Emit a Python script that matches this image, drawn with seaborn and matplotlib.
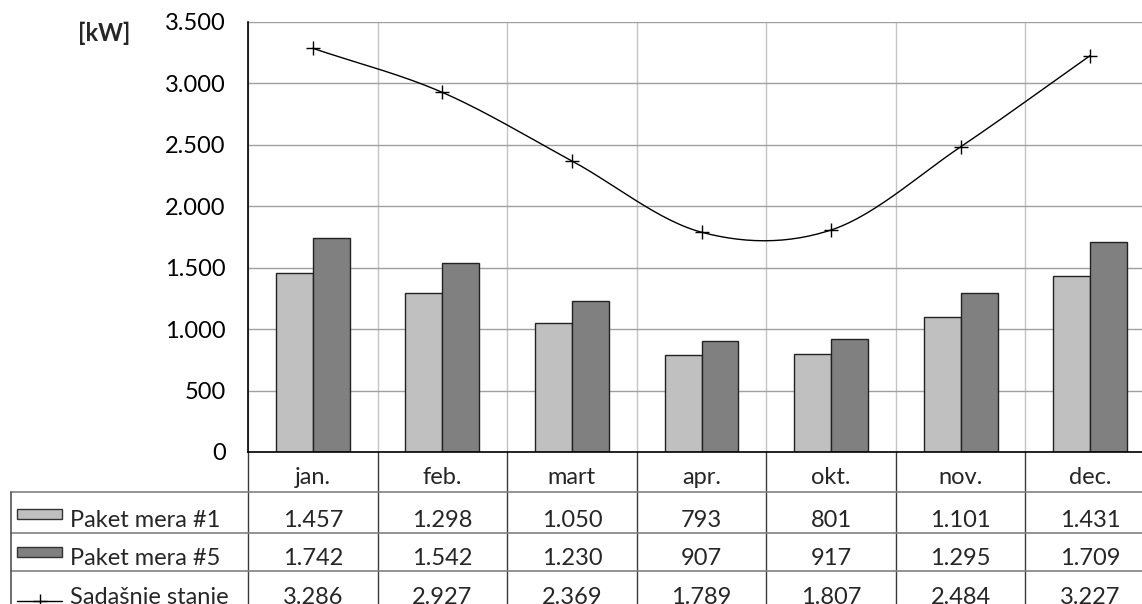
import numpy as np
import pandas as pd
import seaborn as sns
import matplotlib
matplotlib.use("Agg")
import matplotlib.pyplot as plt
from matplotlib.transforms import blended_transform_factory
from matplotlib.lines import Line2D
from matplotlib.patches import Rectangle

# ---- data ----
months = ["jan.", "feb.", "mart", "apr.", "okt.", "nov.", "dec."]
paket1 = [1457, 1298, 1050, 793, 801, 1101, 1431]
paket5 = [1742, 1542, 1230, 907, 917, 1295, 1709]
sadasnje = [3286, 2927, 2369, 1789, 1807, 2484, 3227]
series_names = ["Paket mera #1", "Paket mera #5", "Sadašnje stanje"]
yticks = [0, 500, 1000, 1500, 2000, 2500, 3000, 3500]
unit_label = "[kW]"

def fmt(v):
    return f"{v:,}".replace(",", ".")

sns.set_theme(style="white")
plt.rcParams['font.family'] = ['Lato', 'DejaVu Sans']

W, H = 1142, 604
fig = plt.figure(figsize=(W / 100, H / 100), dpi=100)
def fx(px): return px / W
def fy(py): return 1 - py / H

ax = fig.add_axes([fx(248), fy(452), fx(1155) - fx(248), fy(22) - fy(452)])

df = pd.DataFrame({
    "month": months * 2,
    "value": paket1 + paket5,
    "series": [series_names[0]] * len(months) + [series_names[1]] * len(months),
})
sns.barplot(data=df, x="month", y="value", hue="series", order=months,
            hue_order=series_names[:2], palette=["#C0C0C0", "#808080"],
            width=0.57, edgecolor="#222222", linewidth=1.0, saturation=1,
            legend=False, ax=ax, zorder=3)

# smoothed line (Catmull-Rom through the data points)
xs = np.arange(len(months), dtype=float)
ys = np.array(sadasnje, dtype=float)
P = np.column_stack([xs, ys])
Pext = np.vstack([P[0] - (P[1] - P[0]), P, P[-1] + (P[-1] - P[-2])])
curve = []
for i in range(1, len(Pext) - 2):
    p0, p1, p2, p3 = Pext[i - 1], Pext[i], Pext[i + 1], Pext[i + 2]
    t = np.linspace(0, 1, 30)[:, None]
    seg = 0.5 * (2 * p1 + (-p0 + p2) * t + (2 * p0 - 5 * p1 + 4 * p2 - p3) * t ** 2
                 + (-p0 + 3 * p1 - 3 * p2 + p3) * t ** 3)
    curve.append(seg)
curve = np.vstack(curve)
ax.plot(curve[:, 0], curve[:, 1], color="black", lw=1.0, zorder=4)
ax.plot(xs, ys, linestyle="none", marker="+", markersize=10, mew=1.0,
        color="black", zorder=5)

ax.set_xlim(-0.5, len(months) - 0.5)
ax.set_ylim(0, 3500)
ax.set_yticks(yticks)
ax.set_yticklabels([fmt(v) for v in yticks], fontsize=17)
ax.set_xticks([])
ax.set_xticks(np.arange(-0.5, len(months), 1), minor=True)
ax.tick_params(axis="x", which="both", length=0, labelbottom=False)
ax.tick_params(axis="y", length=0, pad=16, colors="black")
ax.set_xlabel("")
ax.set_ylabel("")
ax.grid(axis="y", which="major", color="#A0A0A0", lw=1.0, zorder=0)
ax.grid(axis="x", which="minor", color="#C4C4C4", lw=1.0, zorder=0)
for s in ["top", "right"]:
    ax.spines[s].set_visible(False)
for s in ["left", "bottom"]:
    ax.spines[s].set_color("black")
    ax.spines[s].set_linewidth(1.2)
    ax.spines[s].set_zorder(6)

fig.text(fx(104), fy(33), unit_label, fontsize=17, fontweight="bold",
         ha="center", va="center")

# ---- data table ----
trans = blended_transform_factory(ax.transData, fig.transFigure)
for b in np.arange(-0.5, len(months), 1):
    ax.add_line(Line2D([b, b], [fy(452), fy(606)], transform=trans,
                       color="#3a3a3a", lw=1.0, clip_on=False))
for yy in [492, 533, 571]:
    fig.add_artist(Line2D([fx(11), 1.0], [fy(yy), fy(yy)], color="#808080", lw=1.2))
fig.add_artist(Line2D([fx(11), fx(11)], [fy(492), fy(606)], color="#555555", lw=1.2))

for i, m in enumerate(months):
    ax.text(i, fy(484), m, transform=trans, ha="center", va="baseline",
            fontsize=17, clip_on=False)

rows = [paket1, paket5, sadasnje]
baselines = [527, 565, 604]
for vals, bl in zip(rows, baselines):
    for i, v in enumerate(vals):
        ax.text(i, fy(bl), fmt(v), transform=trans, ha="center", va="baseline",
                fontsize=17, clip_on=False)

# legend keys in the table
fig.add_artist(Rectangle((fx(17), fy(519)), fx(62) - fx(17), fy(509) - fy(519),
                         facecolor="#C0C0C0", edgecolor="#333333", lw=1.0))
fig.add_artist(Rectangle((fx(17), fy(557)), fx(62) - fx(17), fy(547) - fy(557),
                         facecolor="#808080", edgecolor="#333333", lw=1.0))
fig.add_artist(Line2D([fx(17), fx(62)], [fy(601), fy(601)], color="black", lw=1.0))
fig.add_artist(Line2D([fx(39.5)], [fy(601)], color="black", marker="+",
                      markersize=10, mew=1.0, linestyle="none"))
for name, bl in zip(series_names, baselines):
    fig.text(fx(70), fy(bl), name, fontsize=17, ha="left", va="baseline")

fig.savefig("out.png", dpi=100)
